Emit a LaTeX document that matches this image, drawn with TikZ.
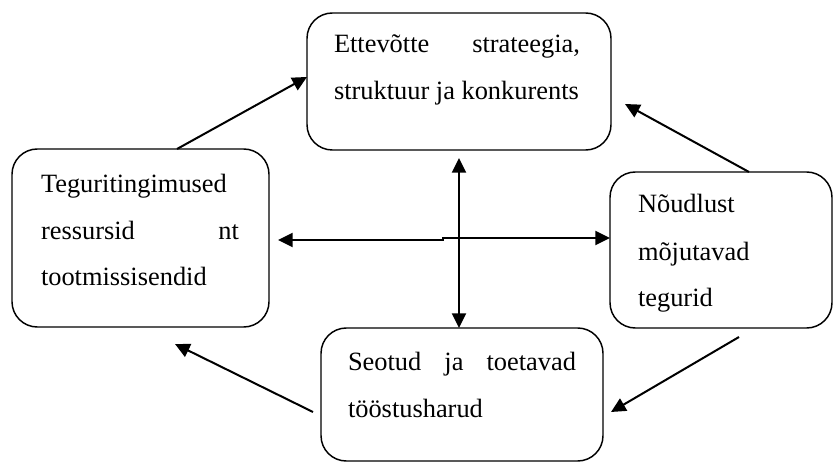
\documentclass[tikz,border=0pt]{standalone}
\usepackage{fontspec}
\setmainfont{Liberation Serif}
\usetikzlibrary{arrows.meta,calc}
\begin{document}
\begin{tikzpicture}[x=0.75pt,y=-0.75pt,
  box/.style={draw,rounded corners=19pt,line width=1.1pt,inner sep=0pt,outer sep=0pt},
  txt/.style={anchor=base west,inner sep=0pt,outer sep=0pt,font=\fontsize{19.8}{24}\selectfont},
  arr/.style={line width=1.5pt,-{Triangle[length=11pt,width=10.5pt]}},
  darr/.style={line width=1.5pt,{Triangle[length=11pt,width=10.5pt]}-{Triangle[length=11pt,width=10.5pt]}}]
\useasboundingbox (0,0) rectangle (838,463);

% the four factor boxes
\node[box,minimum width=228pt,minimum height=102.75pt] (T) at (459,81.5) {};
\node[box,minimum width=192.75pt,minimum height=133.5pt] (L) at (140.5,238) {};
\node[box,minimum width=166.5pt,minimum height=117pt] (R) at (721,250) {};
\node[box,minimum width=211.5pt,minimum height=99.75pt] (B) at (462,394.5) {};

% box texts
\node[txt] (t1) at (334,53) {\hbox to 184.5pt{Ettevõtte\hfill strateegia,}};
\node[txt] (t2) at (334,100) {struktuur ja konkurents};
\node[txt] (l1) at (41,193) {Teguritingimused};
\node[txt] (l2) at (41,239) {\hbox to 148.5pt{ressursid\hfill nt}};
\node[txt] (l3) at (41,285) {tootmissisendid};
\node[txt] (r1) at (638,213) {Nõudlust};
\node[txt] (r2) at (638,260) {mõjutavad};
\node[txt] (r3) at (638,306) {tegurid};
\node[txt] (b1) at (348,370) {\hbox to 171pt{Seotud\hfill ja\hfill toetavad}};
\node[txt] (b2) at (348,417) {tööstusharud};

% free arrow ends
\coordinate (rtTip) at (625,104);
\coordinate (rbStart) at (739,337);
\coordinate (rbTip) at (611,412);
\coordinate (blStart) at (313,412);
\coordinate (blTip) at (175,344);
\coordinate (hLeft) at (278,240);
\coordinate (hK1) at (443,240);
\coordinate (hK2) at (443,238);
\coordinate (vTop) at (459,158);

% cycle of influences
\draw[arr] ([xshift=123.75pt]L.north west) -- ([yshift=3.4pt]T.west);
\draw[arr] ([xshift=104.25pt]R.north west) -- (rtTip);
\draw[arr] (rbStart) -- (rbTip);
\draw[arr] (blStart) -- (blTip);

% central cross
\draw[darr] (hLeft) -- (hK1) -- (hK2) -- ([yshift=9pt]R.west);
\draw[darr] (vTop) -- ([xshift=-2.25pt]B.north);
\end{tikzpicture}
\end{document}
